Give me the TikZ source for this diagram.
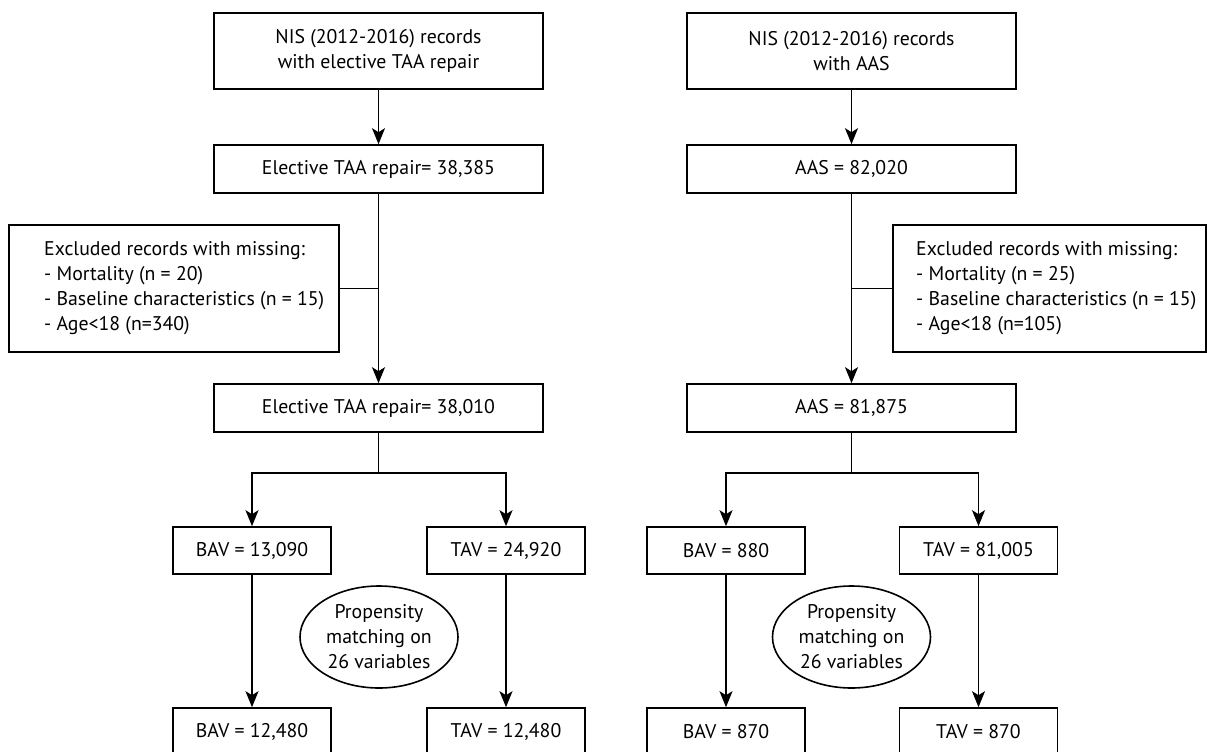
\documentclass[tikz,border=0pt]{standalone}
\usepackage{fontspec}
\setmainfont{PT Sans}
\usetikzlibrary{arrows.meta,shapes.geometric}
\tikzset{
  txt/.style={font=\fontsize{19.8}{25}\selectfont},
  box/.style={draw, line width=1.6pt, rectangle, inner sep=0pt, align=center, txt},
  exbox/.style={draw, line width=1.6pt, rectangle, inner sep=0pt, minimum height=127pt},
  extext/.style={inner sep=0pt, align=left, anchor=west, txt},
  oval/.style={draw, line width=1.6pt, ellipse, inner sep=0pt, minimum width=158pt, minimum height=102pt, align=center, txt},
  link/.style={line width=1.6pt},
  arr/.style={line width=1.6pt, -{Stealth[length=16pt,width=13pt,inset=4pt]}}
}
\begin{document}
\begin{tikzpicture}[x=1pt,y=-1pt]
\useasboundingbox (0,0) rectangle (1207,752);
% ---------- left column ----------
\node[box, minimum width=329pt, minimum height=76pt] (l1) at (378.5,51) {NIS (2012-2016) records\\with elective TAA repair};
\node[box, minimum width=329pt, minimum height=48pt] (l2) at (378.5,169) {Elective TAA repair= 38,385};
\node[box, minimum width=329pt, minimum height=48pt] (l3) at (378.5,408) {Elective TAA repair= 38,010};
\node[exbox, minimum width=330pt] (lx) at (174,288.5) {};
\node[extext] (lxt) at (44,288.5) {Excluded records with missing:\\- Mortality (n = 20)\\- Baseline characteristics (n = 15)\\- Age<18 (n=340)};
\node[box, minimum width=158pt, minimum height=47pt] (lb1) at (252,550.5) {BAV = 13,090};
\node[box, minimum width=158pt, minimum height=47pt] (lt1) at (506,550.5) {TAV = 24,920};
\node[oval] (lp) at (379,637) {Propensity\\matching on\\26 variables};
\node[box, minimum width=158pt, minimum height=47pt] (lb2) at (252,731.5) {BAV = 12,480};
\node[box, minimum width=158pt, minimum height=47pt] (lt2) at (506,731.5) {TAV = 12,480};
\coordinate (ls) at (378.5,473);
\draw[arr] (l1.south) -- (l2.north);
\draw[arr] (l2.south) -- (l3.north);
\draw[link] (lx.east) -- (lx.east -| l2.south);
\draw[link] (l3.south) -- (ls);
\draw[arr] (ls) -| (lb1.north);
\draw[arr] (ls) -| (lt1.north);
\draw[arr] (lb1.south) -- (lb2.north);
\draw[arr] (lt1.south) -- (lt2.north);
% ---------- right column ----------
\node[box, minimum width=329pt, minimum height=76pt] (r1) at (851.5,51) {NIS (2012-2016) records\\with AAS};
\node[box, minimum width=329pt, minimum height=48pt] (r2) at (851.5,169) {AAS = 82,020};
\node[box, minimum width=329pt, minimum height=48pt] (r3) at (851.5,408) {AAS = 81,875};
\node[exbox, minimum width=313pt] (rx) at (1049.5,288.5) {};
\node[extext] (rxt) at (916,288.5) {Excluded records with missing:\\- Mortality (n = 25)\\- Baseline characteristics (n = 15)\\- Age<18 (n=105)};
\node[box, minimum width=158pt, minimum height=47pt] (rb1) at (726,550.5) {BAV = 880};
\node[box, minimum width=158pt, minimum height=47pt] (rt1) at (978.5,550.5) {TAV = 81,005};
\node[oval] (rp) at (851.5,637) {Propensity\\matching on\\26 variables};
\node[box, minimum width=158pt, minimum height=47pt] (rb2) at (726,731.5) {BAV = 870};
\node[box, minimum width=158pt, minimum height=47pt] (rt2) at (978.5,731.5) {TAV = 870};
\coordinate (rs) at (851.5,473);
\draw[arr] (r1.south) -- (r2.north);
\draw[arr] (r2.south) -- (r3.north);
\draw[link] (rx.west) -- (rx.west -| r2.south);
\draw[link] (r3.south) -- (rs);
\draw[arr] (rs) -| (rb1.north);
\draw[arr] (rs) -| (rt1.north);
\draw[arr] (rb1.south) -- (rb2.north);
\draw[arr] (rt1.south) -- (rt2.north);
\end{tikzpicture}
\end{document}
